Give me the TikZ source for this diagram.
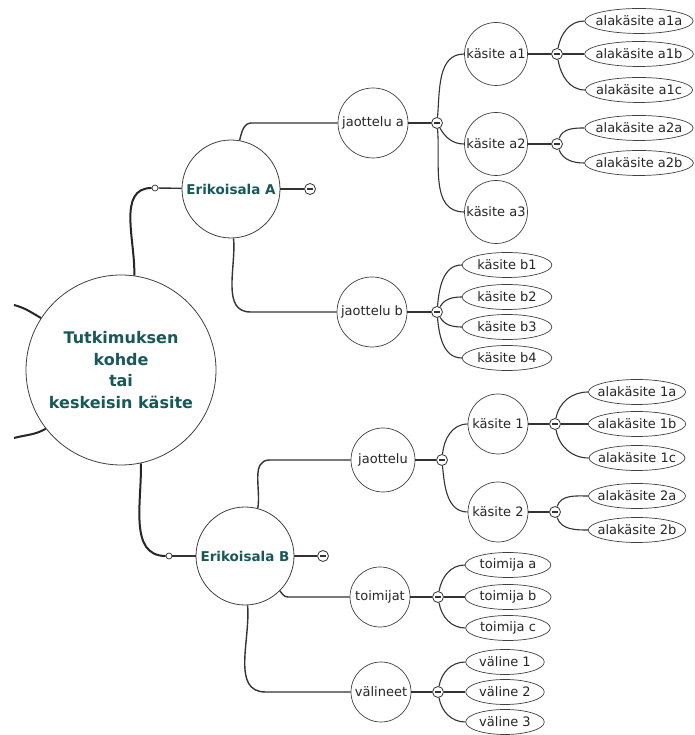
\documentclass[tikz,border=0pt]{standalone}
\usepackage{fontspec}
\setmainfont{DejaVu Sans}
\usetikzlibrary{calc,shapes.geometric}
\definecolor{deepteal}{RGB}{24,88,88}
\tikzset{
	hub/.style={circle, draw=black!75, line width=0.8pt, fill=white, inner sep=0pt, minimum size=190pt, align=center, text=deepteal, font=\bfseries\fontsize{16}{21.5}\selectfont},
	area/.style={circle, draw=black!75, line width=0.8pt, fill=white, inner sep=0pt, minimum size=98pt, text=deepteal, font=\bfseries\fontsize{13.5}{16}\selectfont},
	topic/.style={circle, draw=black!75, line width=0.7pt, fill=white, inner sep=0pt, text=black!85, font=\fontsize{13}{15}\selectfont},
	leaf/.style={ellipse, draw=black!75, line width=0.7pt, fill=white, inner ysep=0pt, inner xsep=2pt, minimum height=25pt, text=black!85, font=\fontsize{13}{15}\selectfont},
	subleaf/.style={leaf, inner xsep=-5pt},
	toggle/.style={circle, draw=black!80, fill=white, line width=0.8pt, inner sep=0pt, minimum size=11pt,
		path picture={\draw[line width=1.3pt] ([xshift=2.5pt]path picture bounding box.west) -- ([xshift=-2.5pt]path picture bounding box.east);}},
	port/.style={circle, draw=black!80, fill=white, line width=0.7pt, inner sep=0pt, minimum size=6pt},
	trunk/.style={line width=2pt, draw=black!85},
	branch/.style={line width=1.4pt, draw=black!80},
	twig/.style={line width=1.1pt, draw=black!80},
}

\begin{document}
\begin{tikzpicture}[x=1pt, y=1pt]
		%%%%% START %%%%%
		\useasboundingbox (0,0) rectangle (694,735);
		
		\node[hub] (core) at (121,365) {Tutkimuksen\\kohde\\tai\\keskeisin käsite};
		\coordinate (offU) at (14,430);
		\coordinate (offD) at (14,297);
		
		\node[port] (pA) at (155,547) {};
		\node[area] (eA) at (231,546) {Erikoisala A};
		\node[toggle] (tA) at (310,546) {};
		
		\node[topic, minimum size=70pt] (jA) at (373,612) {jaottelu a};
		\node[toggle] (tJA) at (437,612) {};
		\node[topic, minimum size=63pt] (kA1) at (496,681) {käsite a1};
		\node[topic, minimum size=63pt] (kA2) at (496,591) {käsite a2};
		\node[topic, minimum size=63pt] (kA3) at (496,523) {käsite a3};
		\node[toggle] (tK1) at (557,681) {};
		\node[toggle] (tK2) at (557,591) {};
		\node[subleaf] (a1a) at (639,714) {alakäsite a1a};
		\node[subleaf] (a1b) at (639,681) {alakäsite a1b};
		\node[subleaf] (a1c) at (639,645) {alakäsite a1c};
		\node[subleaf] (a2a) at (639,607) {alakäsite a2a};
		\node[subleaf] (a2b) at (639,572) {alakäsite a2b};
		
		\node[topic, minimum size=70pt] (jB) at (372,423) {jaottelu b};
		\node[toggle] (tJB) at (437,423) {};
		\node[leaf] (b1) at (507,470) {käsite b1};
		\node[leaf] (b2) at (507,438) {käsite b2};
		\node[leaf] (b3) at (507,408) {käsite b3};
		\node[leaf] (b4) at (507,377) {käsite b4};
		
		\node[port] (pB) at (169,179) {};
		\node[area] (eB) at (245,179) {Erikoisala B};
		\node[toggle] (tB) at (323,179) {};
		
		\node[topic, minimum size=64pt] (jC) at (383,275) {jaottelu};
		\node[toggle] (tJC) at (442,275) {};
		\node[topic, minimum size=60pt] (kC1) at (498,311) {käsite 1};
		\node[topic, minimum size=60pt] (kC2) at (498,223) {käsite 2};
		\node[toggle] (tC1) at (555,311) {};
		\node[toggle] (tC2) at (555,223) {};
		\node[subleaf] (c1a) at (637,343) {alakäsite 1a};
		\node[subleaf] (c1b) at (637,311) {alakäsite 1b};
		\node[subleaf] (c1c) at (637,277) {alakäsite 1c};
		\node[subleaf] (c2a) at (637,239) {alakäsite 2a};
		\node[subleaf] (c2b) at (637,205) {alakäsite 2b};
		
		\node[topic, minimum size=60pt] (tO) at (380,138) {toimijat};
		\node[toggle] (tT) at (438,138) {};
		\node[leaf] (ta) at (508,170) {toimija a};
		\node[leaf] (tb) at (508,138) {toimija b};
		\node[leaf] (tc) at (508,107) {toimija c};
		
		\node[topic, minimum size=60pt] (vA) at (381,43) {välineet};
		\node[toggle] (tV) at (438,43) {};
		\node[leaf] (v1) at (505,73) {väline 1};
		\node[leaf] (v2) at (505,43) {väline 2};
		\node[leaf] (v3) at (505,13) {väline 3};
		
		%%%%% CONNECTORS %%%%%
		\draw[trunk] (core.147) to[out=150,in=-15] (offU);
		\draw[trunk] (core.-142) to[out=-150,in=15] (offD);
		\draw[trunk] (core.82) to[out=88,in=180] (pA);
		\draw[trunk] (core.-78) to[out=-88,in=180] (pB);
		
		\draw[branch] (pA) -- (eA);
		\draw[branch] (eA) -- (tA);
		\draw[branch] (eA.80) to[out=75,in=180] ($(eA.80 |- jA.west)+(12,0)$) -- (jA.west);
		\draw[branch] (eA.-87) to[out=-85,in=180] ($(eA.-87 |- jB.west)+(17,0)$) -- (jB.west);
		
		\draw[branch] (jA) -- (tJA);
		\draw[twig] (tJA) to[out=85,in=180] (kA1.west);
		\draw[twig] (tJA) to[out=-60,in=180] (kA2.west);
		\draw[twig] (tJA) to[out=-85,in=180] (kA3.west);
		\draw[branch] (kA1) -- (tK1);
		\draw[twig] (tK1) to[out=80,in=180] (a1a.west);
		\draw[twig] (tK1) -- (a1b);
		\draw[twig] (tK1) to[out=-80,in=180] (a1c.west);
		\draw[branch] (kA2) -- (tK2);
		\draw[twig] (tK2) to[out=70,in=180] (a2a.west);
		\draw[twig] (tK2) to[out=-70,in=180] (a2b.west);
		
		\draw[branch] (jB) -- (tJB);
		\draw[twig] (tJB) to[out=85,in=180] (b1.west);
		\draw[twig] (tJB) to[out=60,in=180] (b2.west);
		\draw[twig] (tJB) to[out=-60,in=180] (b3.west);
		\draw[twig] (tJB) to[out=-85,in=180] (b4.west);
		
		\draw[branch] (pB) -- (eB);
		\draw[branch] (eB) -- (tB);
		\draw[branch] (eB.75) to[out=80,in=180] ($(eB.75 |- jC.west)+(12,0)$) -- (jC.west);
		\draw[branch] (eB.-45) to[out=-50,in=180] ($(eB.-45 |- tO.west)+(8,0)$) -- (tO.west);
		\draw[branch] (eB.-87) to[out=-85,in=180] ($(eB.-87 |- vA.west)+(18,0)$) -- (vA.west);
		
		\draw[branch] (jC) -- (tJC);
		\draw[twig] (tJC) to[out=85,in=180] (kC1.west);
		\draw[twig] (tJC) to[out=-85,in=180] (kC2.west);
		\draw[branch] (kC1) -- (tC1);
		\draw[twig] (tC1) to[out=80,in=180] (c1a.west);
		\draw[twig] (tC1) -- (c1b);
		\draw[twig] (tC1) to[out=-80,in=180] (c1c.west);
		\draw[branch] (kC2) -- (tC2);
		\draw[twig] (tC2) to[out=70,in=180] (c2a.west);
		\draw[twig] (tC2) to[out=-70,in=180] (c2b.west);
		
		\draw[branch] (tO) -- (tT);
		\draw[twig] (tT) to[out=80,in=180] (ta.west);
		\draw[twig] (tT) -- (tb);
		\draw[twig] (tT) to[out=-80,in=180] (tc.west);
		
		\draw[branch] (vA) -- (tV);
		\draw[twig] (tV) to[out=80,in=180] (v1.west);
		\draw[twig] (tV) -- (v2);
		\draw[twig] (tV) to[out=-80,in=180] (v3.west);
		
		%%%%% END %%%%%
\end{tikzpicture}
\end{document}
